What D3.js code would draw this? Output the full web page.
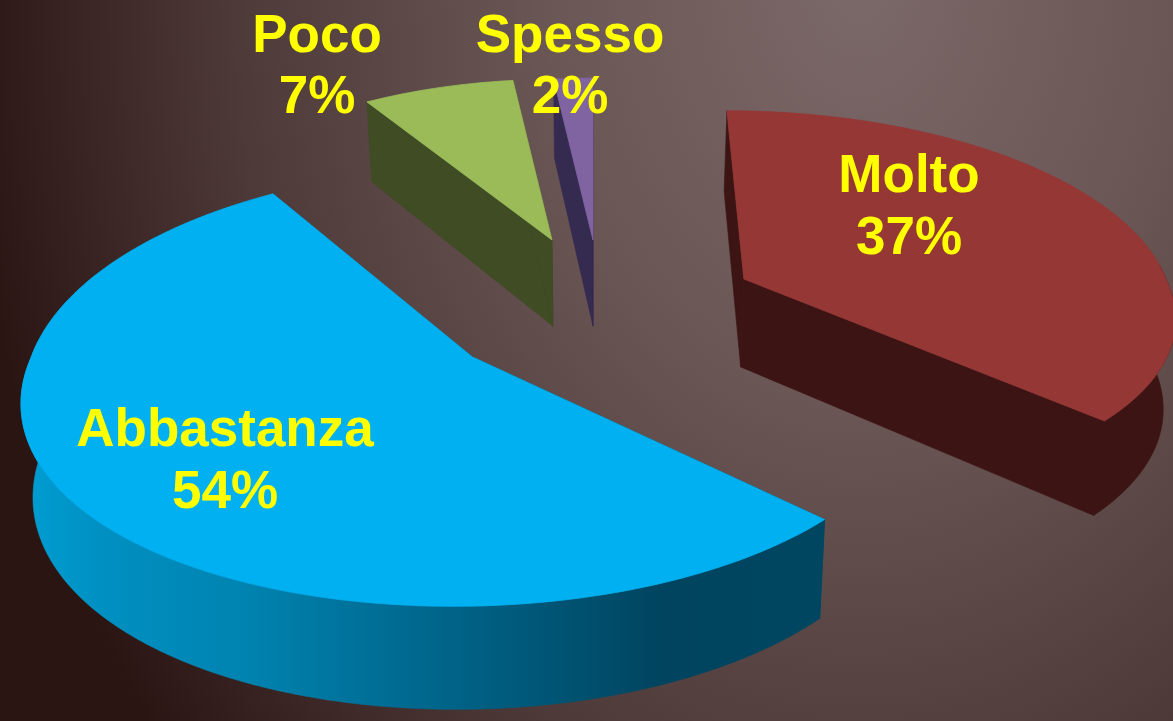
<!DOCTYPE html>
<html><head><meta charset="utf-8">
<script src="https://cdn.jsdelivr.net/npm/d3@7"></script>
<style>html,body{margin:0;padding:0;background:#2a1513;overflow:hidden}svg{display:block}</style>
</head><body><div id="c"></div>
<script>
const categories = ["Molto","Abbastanza","Poco","Spesso"];
const values = [37,54,7,2];
const topColors = ["#953735","#00b0f0","#9bbb59","#8064a2"];
const wallColors = ["#3c1414","url(#wallBlue)","#3f4c24","#352a50"];

const W=1173,H=721;
const svg=d3.select("#c").append("svg").attr("width",W).attr("height",H);
const defs=svg.append("defs");
const bg=defs.append("radialGradient").attr("id","bg").attr("gradientUnits","userSpaceOnUse")
  .attr("cx",0).attr("cy",0).attr("r",900)
  .attr("gradientTransform","translate(860,-20) scale(1,1.35)");
[[0,"#7b6868"],[0.35,"#6a5655"],[0.7,"#4d3938"],[1,"#2a1513"]].forEach(s=>bg.append("stop").attr("offset",s[0]).attr("stop-color",s[1]));
const wb=defs.append("linearGradient").attr("id","wallBlue").attr("gradientUnits","userSpaceOnUse")
  .attr("x1",20).attr("x2",825).attr("y1",0).attr("y2",0);
[[0,"#009ed3"],[0.1,"#0090c2"],[0.28,"#0083b0"],[0.47,"#006b92"],[0.8,"#00445f"],[1,"#004660"]].forEach(s=>wb.append("stop").attr("offset",s[0]).attr("stop-color",s[1]));
svg.append("rect").attr("width",W).attr("height",H).attr("fill","url(#bg)");

// Projection of the tilted disc
const vx=593,hy=-1222,H0=1622,p=0.00031,frontWiden=19;
const proj=(X,Y)=>{const w=1+p*Y;return [vx+X/w,hy+H0/w,1/w];};
const lower=(q)=>[vx+(q[0]-vx)*0.979,q[1]+18.5+75*q[2],q[2]];
// per-slice world offset and radii of the exploded slice
const offsets=[[163,260],[-124,88],[-45.5,353],[0,353]];
const radiiX=[456,453,432,392];
const radiiY=[440,452,442,446];

const pie=d3.pie().sort(null).value(d=>d)(values);
const line=d3.line();
const g=svg.append("g");
[2,3,0,1].forEach(i=>{
  const a=pie[i],o=offsets[i];
  const pt=(t)=>{
    const rx=radiiX[i]+frontWiden*Math.max(0,-Math.cos(t));
    return proj(o[0]+rx*Math.sin(t),o[1]+radiiY[i]*Math.cos(t));
  };
  const apex=proj(o[0],o[1]);
  const n=Math.max(4,Math.ceil((a.endAngle-a.startAngle)*60));
  const ts=d3.range(n+1).map(k=>a.startAngle+(a.endAngle-a.startAngle)*k/n);
  const arc=ts.map(pt);
  const wall=(pts)=>g.append("path").attr("d",line(pts.concat(pts.slice().reverse().map(lower)).map(q=>[q[0],q[1]]))+"Z")
     .attr("fill",wallColors[i]).attr("stroke",wallColors[i]).attr("stroke-width",0.6);
  const front=ts.filter(t=>Math.cos(t)<0.08).map(pt);
  if(front.length>1) wall(front);
  wall([apex,arc[0]]);
  wall([apex,arc[n]]);
  g.append("path").attr("d",line([apex].concat(arc).map(q=>[q[0],q[1]]))+"Z")
    .attr("fill",topColors[i]).attr("stroke",topColors[i]).attr("stroke-width",0.8);
});

const labels=[[909,192,254],[225,446,508],[317,52,113],[570,52,113]];
categories.forEach((c,i)=>{
  const t=svg.append("text").attr("text-anchor","middle").attr("fill","#ffff00")
    .attr("font-family","'Liberation Sans',Arial,sans-serif").attr("font-weight","bold").attr("font-size",53);
  t.append("tspan").attr("x",labels[i][0]).attr("y",labels[i][1]).text(c);
  t.append("tspan").attr("x",labels[i][0]).attr("y",labels[i][2]).text(values[i]+"%");
});
</script></body></html>
